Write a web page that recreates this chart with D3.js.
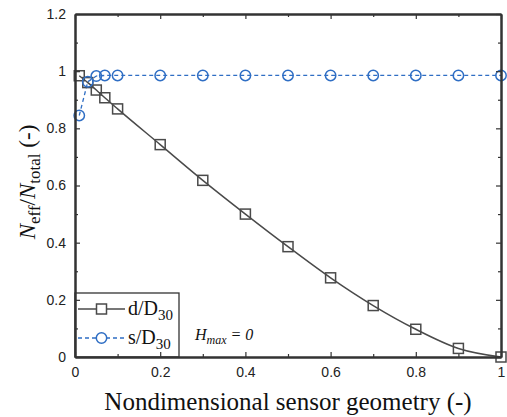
<!DOCTYPE html>
<html>
<head>
<meta charset="utf-8">
<script src="https://cdn.jsdelivr.net/npm/d3@7"></script>
<style>
  body { margin: 0; background: #fff; }
  svg { display: block; }
  .tick text { font-family: "Liberation Sans", Arial, sans-serif; font-size: 14px; fill: #222; }
</style>
</head>
<body>
<div id="chart"></div>
<script>
// data
const xVals  = [0.01, 0.03, 0.05, 0.07, 0.1, 0.2, 0.3, 0.4, 0.5, 0.6, 0.7, 0.8, 0.9, 1.0];
const dRatio = [0.984, 0.96, 0.934, 0.907, 0.868, 0.743, 0.618, 0.5, 0.386, 0.277, 0.18, 0.097, 0.03, 0.0];
const sRatio = [0.845, 0.963, 0.983, 0.985, 0.985, 0.985, 0.985, 0.985, 0.985, 0.985, 0.985, 0.985, 0.985, 0.985];
const xTicks = [0, 0.2, 0.4, 0.6, 0.8, 1];
const yTicks = [0, 0.2, 0.4, 0.6, 0.8, 1, 1.2];
const seriesNames = ['d/D', 's/D'];

(function () {
  const W = 507, H = 417;
  const margin = { top: 14, right: 6, bottom: 60, left: 75 };
  const width  = W - margin.left - margin.right;
  const height = H - margin.top - margin.bottom;
  const SERIF = '"Liberation Serif", "Times New Roman", "DejaVu Serif", serif';

  const svg = d3.select('#chart').append('svg')
    .attr('width', W).attr('height', H);

  const g = svg.append('g')
    .attr('transform', `translate(${margin.left},${margin.top})`);

  const x = d3.scaleLinear().domain([0, 1]).range([0, width]);
  const y = d3.scaleLinear().domain([0, 1.2]).range([height, 0]);

  const grey = '#4a4a4a', blue = '#2f6ec4';

  /* ─── axes: inward ticks on all four sides ─── */
  const fmt = d => d3.format('~g')(d);
  const minorX = d3.range(0.1, 1, 0.2);
  const minorY = d3.range(0.1, 1.2, 0.2);

  function axisBox() {
    // bottom
    g.append('g').attr('transform', `translate(0,${height})`)
      .call(d3.axisBottom(x).tickValues(xTicks).tickFormat(fmt).tickSizeInner(-5).tickSizeOuter(0).tickPadding(10));
    g.append('g').attr('transform', `translate(0,${height})`)
      .call(d3.axisBottom(x).tickValues(minorX).tickFormat('').tickSizeInner(-3).tickSizeOuter(0));
    // top
    g.append('g')
      .call(d3.axisTop(x).tickValues(xTicks).tickFormat('').tickSizeInner(-5).tickSizeOuter(0));
    g.append('g')
      .call(d3.axisTop(x).tickValues(minorX).tickFormat('').tickSizeInner(-3).tickSizeOuter(0));
    // left
    g.append('g')
      .call(d3.axisLeft(y).tickValues(yTicks).tickFormat(fmt).tickSizeInner(-5).tickSizeOuter(0).tickPadding(9));
    g.append('g')
      .call(d3.axisLeft(y).tickValues(minorY).tickFormat('').tickSizeInner(-3).tickSizeOuter(0));
    // right
    g.append('g').attr('transform', `translate(${width},0)`)
      .call(d3.axisRight(y).tickValues(yTicks).tickFormat('').tickSizeInner(-5).tickSizeOuter(0));
    g.append('g').attr('transform', `translate(${width},0)`)
      .call(d3.axisRight(y).tickValues(minorY).tickFormat('').tickSizeInner(-3).tickSizeOuter(0));

    g.selectAll('.domain').attr('stroke', '#333').attr('stroke-width', 2);
    g.selectAll('.tick line').attr('stroke', '#333').attr('stroke-width', 1.2);
  }

  /* ─── series ─── */
  const dData = xVals.map((v, i) => ({ x: v, y: dRatio[i] }));
  const sData = xVals.map((v, i) => ({ x: v, y: sRatio[i] }));

  const plot = g.append('g');

  plot.append('path').datum(dData)
    .attr('fill', 'none').attr('stroke', grey).attr('stroke-width', 1.5)
    .attr('d', d3.line().x(d => x(d.x)).y(d => y(d.y)).curve(d3.curveMonotoneX));

  plot.append('path').datum(sData)
    .attr('fill', 'none').attr('stroke', blue).attr('stroke-width', 1.3)
    .attr('stroke-dasharray', '4,3')
    .attr('d', d3.line().x(d => x(d.x)).y(d => y(d.y)));

  const sq = 10;
  plot.selectAll('rect.sq').data(dData).join('rect')
    .attr('class', 'sq')
    .attr('x', d => x(d.x) - sq / 2).attr('y', d => y(d.y) - sq / 2)
    .attr('width', sq).attr('height', sq)
    .attr('fill', 'none').attr('stroke', grey).attr('stroke-width', 1.5);

  plot.selectAll('circle.ci').data(sData).join('circle')
    .attr('class', 'ci')
    .attr('cx', d => x(d.x)).attr('cy', d => y(d.y)).attr('r', 5.2)
    .attr('fill', 'none').attr('stroke', blue).attr('stroke-width', 1.5);

  /* ─── legend ─── */
  const legW = 104, legH = 64;
  const leg = g.append('g').attr('transform', `translate(0,${height - legH})`);
  leg.append('rect')
    .attr('width', legW).attr('height', legH)
    .attr('fill', '#fff').attr('stroke', '#333').attr('stroke-width', 1.3);

  const rows = [
    { name: seriesNames[0], color: grey, dash: null, mark: 'sq', cy: 16 },
    { name: seriesNames[1], color: blue, dash: '4,3', mark: 'ci', cy: 45 }
  ];
  rows.forEach(r => {
    const row = leg.append('g').attr('transform', `translate(0,${r.cy})`);
    row.append('line').attr('x1', 3).attr('x2', 50)
      .attr('stroke', r.color).attr('stroke-width', 1.4)
      .attr('stroke-dasharray', r.dash);
    if (r.mark === 'sq') {
      row.append('rect').attr('x', 26.5 - sq / 2).attr('y', -sq / 2)
        .attr('width', sq).attr('height', sq)
        .attr('fill', '#fff').attr('stroke', r.color).attr('stroke-width', 1.5);
    } else {
      row.append('circle').attr('cx', 26.5).attr('r', 5.2)
        .attr('fill', '#fff').attr('stroke', r.color).attr('stroke-width', 1.5);
    }
    const t = row.append('text').attr('font-family', SERIF).attr('fill', '#111')
      .attr('x', 53).attr('y', 6).attr('font-size', 20);
    t.append('tspan').text(r.name);
    t.append('tspan').attr('font-size', 15).attr('dy', 5).text('30');
  });

  /* ─── annotation ─── */
  const ann = g.append('text').attr('font-family', SERIF).attr('fill', '#111')
    .attr('x', 120).attr('y', height - 17)
    .attr('font-size', 16).attr('font-style', 'italic');
  ann.append('tspan').text('H');
  ann.append('tspan').attr('font-size', 12).attr('dy', 4).text('max');
  ann.append('tspan').attr('dy', -4).text(' = 0');

  axisBox();

  /* ─── axis titles ─── */
  svg.append('text').attr('font-family', SERIF).attr('fill', '#111')
    .attr('x', margin.left + width / 2).attr('y', 410)
    .attr('text-anchor', 'middle').attr('font-size', 25)
    .text('Nondimensional sensor geometry (-)');

  const yt = svg.append('text').attr('font-family', SERIF).attr('fill', '#111')
    .attr('transform', `translate(35,${182}) rotate(-90)`)
    .attr('text-anchor', 'middle').attr('font-size', 23);
  yt.append('tspan').attr('font-style', 'italic').text('N');
  yt.append('tspan').attr('font-size', 17).attr('dy', 5).text('eff');
  yt.append('tspan').attr('dy', -5).text('/');
  yt.append('tspan').attr('font-style', 'italic').text('N');
  yt.append('tspan').attr('font-size', 17).attr('dy', 5).text('total');
  yt.append('tspan').attr('dy', -5).text(' (-)');
})();
</script>
</body>
</html>
